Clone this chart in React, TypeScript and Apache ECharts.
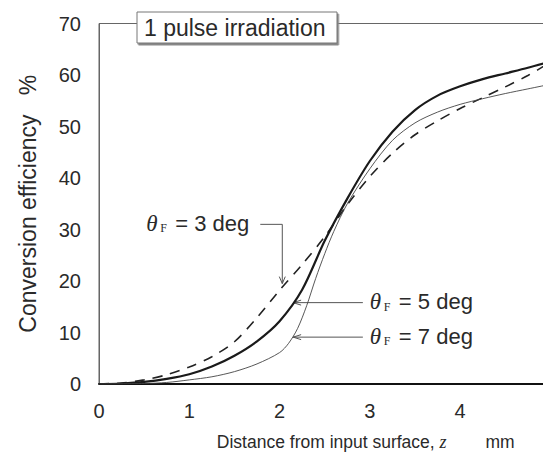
import React, { useEffect, useRef } from "react";
import * as echarts from "echarts";

const xTicks = [0, 1, 2, 3, 4, 5];
const yTicks = [0, 10, 20, 30, 40, 50, 60, 70];

const z3deg = [0, 0.25, 0.5, 0.75, 1.0, 1.25, 1.5, 1.75, 2.0, 2.25, 2.5, 2.75, 3.0, 3.25, 3.5, 3.75, 4.0, 4.25, 4.5, 4.75, 5.0];
const eff3deg = [0, 0.2, 0.8, 1.8, 3.3, 5.3, 8.2, 12.9, 18.2, 23.2, 28.6, 34.8, 40.3, 44.8, 48.4, 51.1, 53.5, 55.6, 57.7, 59.9, 62.5];
const z5deg = [0, 0.25, 0.5, 0.75, 1.0, 1.25, 1.5, 1.75, 2.0, 2.25, 2.5, 2.75, 3.0, 3.25, 3.5, 3.75, 4.0, 4.25, 4.5, 4.75, 5.0];
const eff5deg = [0, 0.1, 0.4, 1.0, 1.9, 3.4, 5.5, 8.3, 12.2, 18.3, 27.8, 36.0, 43.3, 49.0, 53.2, 56.0, 57.8, 59.2, 60.3, 61.4, 62.6];
const z7deg = [0, 0.5, 0.75, 1.0, 1.25, 1.5, 1.75, 2.0, 2.1, 2.2, 2.3, 2.4, 2.5, 2.6, 2.75, 3.0, 3.25, 3.5, 3.75, 4.0, 4.25, 4.5, 4.75, 5.0];
const eff7deg = [0, 0.1, 0.3, 0.8, 1.4, 2.4, 3.9, 6.1, 7.9, 10.8, 15.2, 20.5, 25.3, 29.6, 35.0, 41.8, 47.3, 50.7, 52.8, 54.3, 55.4, 56.4, 57.3, 58.2];

const titleText = "1 pulse irradiation";
const xName = "Distance from input surface, ";
const yName = "Conversion efficiency   %";

// annotations: arrow tip in data coordinates
const ann3 = { deg: "3", tip: [2.03, 19.3], cornerY: 31.0 };
const ann5 = { deg: "5", tip: [2.15, 15.8], textX: 3.0 };
const ann7 = { deg: "7", tip: [2.15, 9.1], textX: 3.0 };

const pair = (xs: number[], ys: number[]) => xs.map((z, i) => [z, ys[i]]);

const SANS = "Liberation Sans, Arial, Helvetica, sans-serif";
const SERIF = "Liberation Serif, Times New Roman, serif";
const INK = "#2a2a2a";

export default function App() {
  const ref = useRef<HTMLDivElement>(null);
  useEffect(() => {
    const chart = echarts.init(ref.current!, null, { renderer: "svg" });
    chart.setOption({
      animation: false,
      backgroundColor: "#fff",
      grid: { left: 90, right: 8, top: 15.5, bottom: 80, show: true, borderColor: "#666", borderWidth: 1 },
      xAxis: {
        type: "value",
        min: xTicks[0],
        max: xTicks[xTicks.length - 1],
        interval: 1,
        axisLine: { show: true, lineStyle: { color: "#111", width: 2 } },
        axisTick: { show: false },
        splitLine: { show: false },
        axisLabel: { color: INK, fontFamily: SANS, fontSize: 20, margin: 17 },
        name: "{a|" + xName + "}{z|z}{a|        mm}",
        nameLocation: "middle",
        nameGap: 49,
        nameTextStyle: {
          padding: [0, 0, 0, 82],
          rich: {
            a: { fontFamily: SANS, fontSize: 17.5, color: INK },
            z: { fontFamily: SERIF, fontStyle: "italic", fontSize: 18, color: INK },
          },
        },
      },
      yAxis: {
        type: "value",
        min: yTicks[0],
        max: yTicks[yTicks.length - 1],
        interval: 10,
        axisLine: { show: true, lineStyle: { color: "#666", width: 1 } },
        axisTick: { show: false },
        splitLine: { show: false },
        axisLabel: { color: INK, fontFamily: SANS, fontSize: 20, margin: 18 },
        name: yName,
        nameLocation: "middle",
        nameGap: 60,
        nameTextStyle: { color: INK, fontFamily: SANS, fontSize: 23 },
      },
      series: [
        {
          name: "3 deg", type: "line", data: pair(z3deg, eff3deg), smooth: 0.3, symbol: "none",
          lineStyle: { color: "#222", width: 1.6, type: [10, 8] },
        },
        {
          name: "5 deg", type: "line", data: pair(z5deg, eff5deg), smooth: 0.3, symbol: "none",
          lineStyle: { color: "#1a1a1a", width: 2.2 },
        },
        {
          name: "7 deg", type: "line", data: pair(z7deg, eff7deg), smooth: 0.3, symbol: "none",
          lineStyle: { color: "#444", width: 0.9 },
        },
      ],
    });

    const px = (p: number[]) => chart.convertToPixel({ gridIndex: 0 }, p) as number[];
    const labelEls = (x0: number, y: number, deg: string) => [
      { type: "text", x: x0, y: y, style: { text: "θ", font: `italic 23px ${SERIF}`, fill: INK, textVerticalAlign: "middle" } },
      { type: "text", x: x0 + 14, y: y + 5, style: { text: "F", font: `12px ${SERIF}`, fill: INK, textVerticalAlign: "middle" } },
      { type: "text", x: x0 + 29, y: y, style: { text: `= ${deg} deg`, font: `22px ${SANS}`, fill: INK, textVerticalAlign: "middle" } },
    ];
    const lineStyle = { stroke: "#555", lineWidth: 1 };
    const graphics: any[] = [];

    // title box
    graphics.push({
      type: "rect", shape: { x: 129, y: 4, width: 200, height: 31 },
      style: { fill: "#fff", stroke: "#777", lineWidth: 1, shadowColor: "#888", shadowOffsetX: 1.5, shadowOffsetY: 2, shadowBlur: 0 },
      z: 10,
    });
    graphics.push({
      type: "text", x: 136, y: 20, z: 11,
      style: { text: titleText, font: `23px ${SANS}`, fill: INK, textVerticalAlign: "middle" },
    });

    // 3 deg annotation
    const t3 = px(ann3.tip);
    const c3 = px([ann3.tip[0], ann3.cornerY]);
    graphics.push({ type: "polyline", shape: { points: [[c3[0] - 22, c3[1]], c3, [t3[0], t3[1] - 1]] }, style: { ...lineStyle, fill: null } });
    graphics.push({ type: "polyline", shape: { points: [[t3[0] - 3, t3[1] - 8], [t3[0], t3[1] - 1], [t3[0] + 3, t3[1] - 8]] }, style: { ...lineStyle, fill: null } });
    graphics.push(...labelEls(c3[0] - 136, c3[1] - 1, ann3.deg));

    for (const a of [ann5, ann7]) {
      const t = px(a.tip);
      const tx = px([a.textX, a.tip[1]])[0];
      graphics.push({ type: "line", shape: { x1: t[0], y1: t[1], x2: tx - 7, y2: t[1] }, style: lineStyle });
      graphics.push({ type: "polyline", shape: { points: [[t[0] + 8, t[1] - 2.5], [t[0], t[1]], [t[0] + 8, t[1] + 2.5]] }, style: { ...lineStyle, fill: null } });
      graphics.push(...labelEls(tx, t[1] - 1, a.deg));
    }

    chart.setOption({ graphic: graphics });
    return () => chart.dispose();
  }, []);
  return <div ref={ref} style={{ width: 551, height: 456 }} />;
}
